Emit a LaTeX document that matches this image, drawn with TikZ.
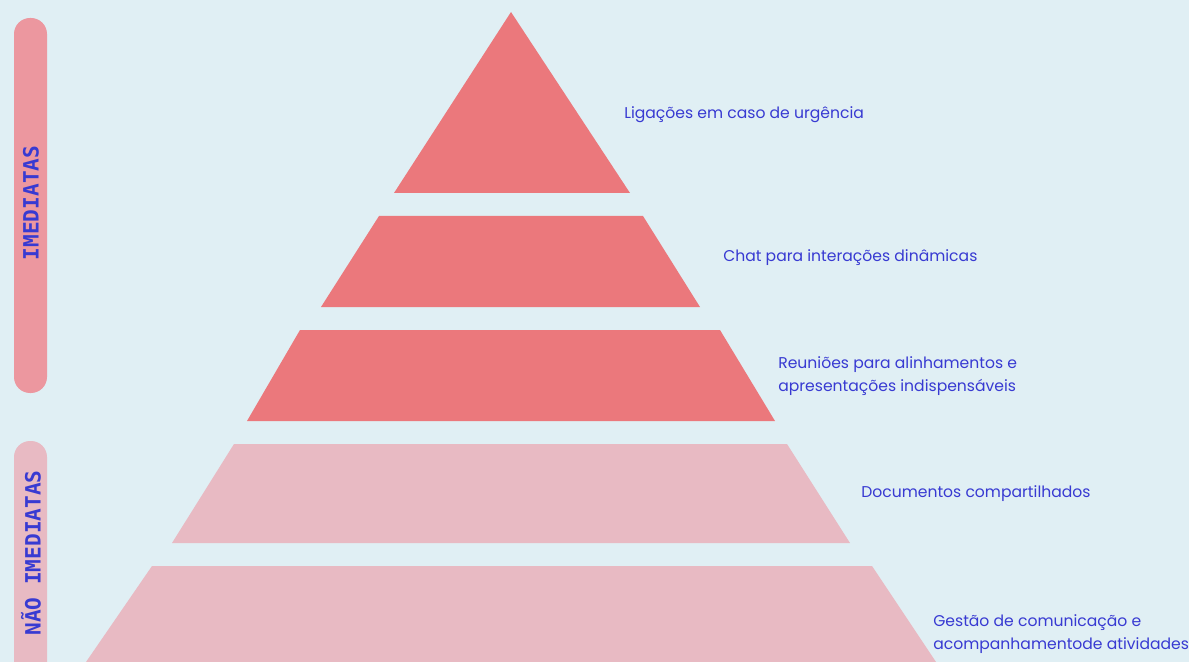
\documentclass[tikz,border=0pt]{standalone}
\usepackage{fontspec}
\setmainfont{Poppins}
\newfontfamily\barfont{DejaVu Sans Mono}
\definecolor{bgcol}{RGB}{224,239,244}
\definecolor{hot}{RGB}{235,120,124}
\definecolor{soft}{RGB}{232,186,195}
\definecolor{hotbar}{RGB}{236,151,159}
\definecolor{ink}{RGB}{56,58,210}
\begin{document}
\begin{tikzpicture}[x=0.025cm,y=-0.025cm,line join=round,line cap=round,
	lbl/.style={anchor=west,text=ink,align=left,inner sep=0pt,font=\fontsize{11.1}{16.3}\selectfont},
	bar/.style={rounded corners=16*0.025cm},
	bartxt/.style={rotate=90,text=ink,inner sep=0pt,font=\barfont\bfseries\fontsize{15}{17}\selectfont}]
	\fill[bgcol] (0,0) rectangle (1189,662);
	\useasboundingbox (0,0) rectangle (1189,662);
	% side bars
	\fill[hotbar,bar] (14,18) rectangle (47,393);
	\fill[soft,bar] (14,441) rectangle (47,700);
	\node[bartxt] (imm) at (31,203) {IMEDIATAS};
	\node[bartxt] (nimm) at (31,553) {NÃO IMEDIATAS};
	% pyramid
	\fill[hot] (511,12)--(630,193)--(394,193)--cycle;
	\fill[hot] (379,216)--(643,216)--(700,307)--(321,307)--cycle;
	\fill[hot] (300,330)--(720,330)--(775,421)--(247,421)--cycle;
	\fill[soft] (234,444)--(787,444)--(850,543)--(172,543)--cycle;
	\fill[soft] (152,566)--(872,566)--(936,662)--(86,662)--cycle;
	% labels
	\node[lbl] (t1) at (624,115) {Ligações em caso de urgência};
	\node[lbl] (t2) at (723,258) {Chat para interações dinâmicas};
	\node[lbl] (t3) at (778,376) {Reuniões para alinhamentos e\\apresentações indispensáveis};
	\node[lbl] (t4) at (861,494) {Documentos compartilhados};
	\node[lbl] (t5) at (933,634) {Gestão de comunicação e\\acompanhamentode atividades};
\end{tikzpicture}
\end{document}
